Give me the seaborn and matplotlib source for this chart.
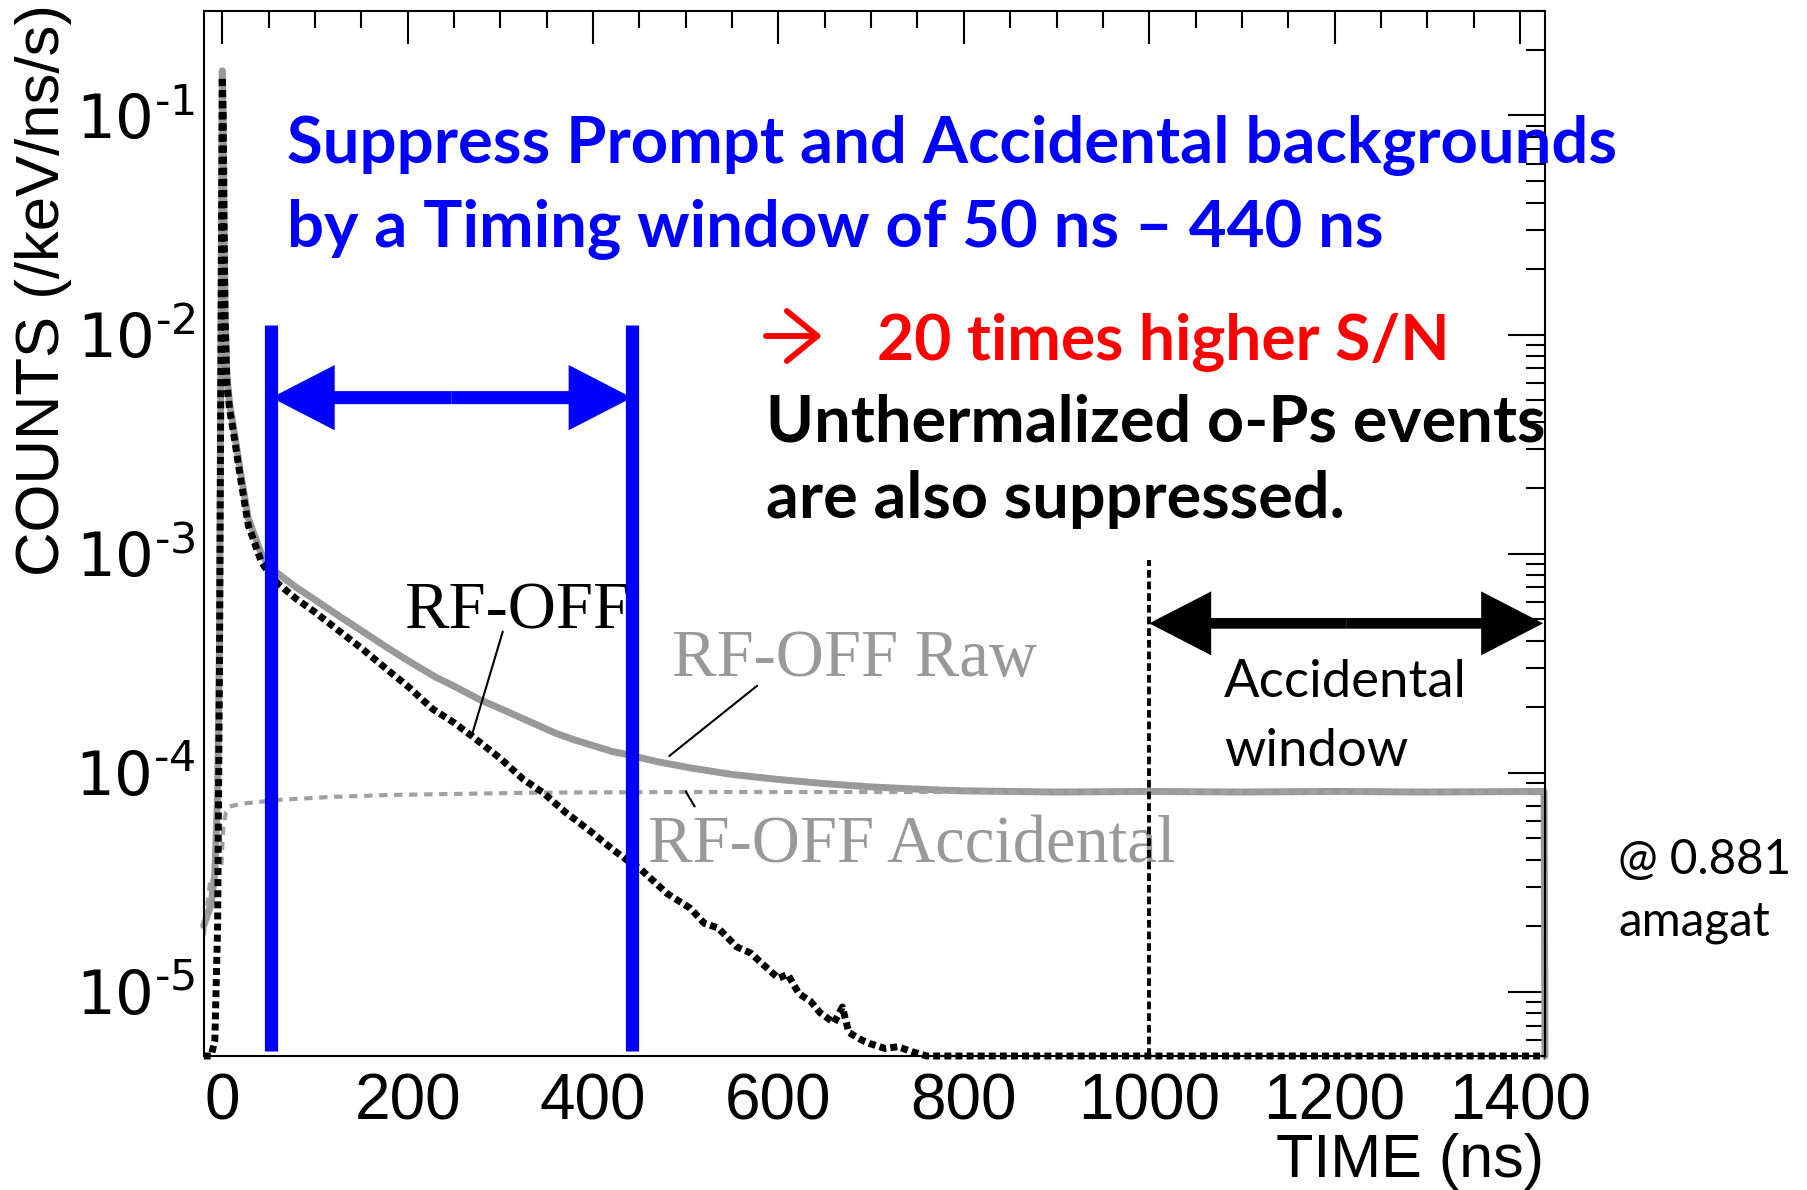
import numpy as np
import pandas as pd
import seaborn as sns
import matplotlib.pyplot as plt
from matplotlib.ticker import MultipleLocator, NullFormatter

# --- data (time in ns, counts in /keV/ns/s) ---
t_rf_off = [-20, -12, -8, -5, -3, -1, 0, 1, 2, 3, 5, 8, 12, 19, 28, 42, 53, 60, 80, 100,
            127, 150, 181, 200, 227, 250, 270, 300, 325, 346, 370, 397, 420, 436, 452, 480,
            505, 520, 535, 555, 570, 586, 600, 610, 622, 635, 645, 660, 669, 676, 690, 698,
            715, 729, 745, 760, 1427]
rf_off = [0, 0, 6e-6, 2e-5, 3e-4, 2e-2, 0.15, 0.1, 0.03, 0.012, 6e-3, 4.5e-3, 3.6e-3, 2.3e-3,
          1.35e-3, 9.2e-4, 7.8e-4, 7.3e-4, 6.2e-4, 5.4e-4, 4.4e-4, 3.7e-4, 2.88e-4, 2.48e-4,
          1.95e-4, 1.69e-4, 1.46e-4, 1.16e-4, 9.3e-5, 8.1e-5, 6.6e-5, 5.4e-5, 4.5e-5, 4.0e-5,
          3.6e-5, 2.8e-5, 2.4e-5, 2.05e-5, 1.95e-5, 1.6e-5, 1.5e-5, 1.3e-5, 1.15e-5, 1.2e-5,
          9.8e-6, 9.0e-6, 8.0e-6, 7.2e-6, 8.5e-6, 6.5e-6, 6.0e-6, 5.8e-6, 5.5e-6, 5.6e-6,
          5.3e-6, 0, 0]

t_raw = [-20, -12, -8, -5, -3, -1, 0, 1, 2, 3, 5, 8, 12, 19, 28, 42, 53, 60, 80, 100, 127,
         150, 181, 200, 230, 250, 278, 300, 330, 360, 380, 420, 436, 470, 505, 550, 600, 650,
         700, 750, 800, 900, 1000, 1100, 1200, 1300, 1426, 1427]
rf_off_raw = [2e-5, 2.5e-5, 3.5e-5, 8e-5, 4e-4, 2e-2, 0.16, 0.1, 0.032, 0.013, 6.5e-3, 4.8e-3,
              3.8e-3, 2.45e-3, 1.45e-3, 1.0e-3, 8.5e-4, 8.1e-4, 7.0e-4, 6.15e-4, 5.15e-4,
              4.45e-4, 3.65e-4, 3.25e-4, 2.73e-4, 2.48e-4, 2.15e-4, 1.96e-4, 1.72e-4, 1.51e-4,
              1.41e-4, 1.25e-4, 1.21e-4, 1.12e-4, 1.05e-4, 9.8e-5, 9.3e-5, 8.9e-5, 8.6e-5,
              8.4e-5, 8.25e-5, 8.15e-5, 8.2e-5, 8.15e-5, 8.2e-5, 8.15e-5, 8.2e-5, 0]

t_acc = [-20, -13, -5, -1, 1, 4, 8, 20, 60, 120, 181, 260, 343, 500, 700, 1000, 1426]
rf_off_acc = [1.8e-5, 3.2e-5, 3.5e-5, 3.7e-5, 5.6e-5, 6.6e-5, 7.0e-5, 7.2e-5, 7.5e-5, 7.75e-5,
              7.9e-5, 8.0e-5, 8.1e-5, 8.15e-5, 8.15e-5, 8.15e-5, 8.15e-5]

timing_window = [53, 442]
accidental_window = [1000, 1425]
x_ticks = [0, 200, 400, 600, 800, 1000, 1200, 1400]
y_exponents = [-5, -4, -3, -2, -1]

W, H = 1807, 1190
BLUE, RED, GREY = '#0000ff', '#ff0000', '#999999'

sns.set_style("white")
plt.rcParams['font.family'] = ['Liberation Sans', 'DejaVu Sans']
plt.rcParams.update({'axes.edgecolor': 'black', 'axes.linewidth': 1.5,
                     'text.color': 'black', 'xtick.color': 'black', 'ytick.color': 'black',
                     'axes.labelcolor': 'black'})

fig = plt.figure(figsize=(W / 100, H / 100), dpi=100)
ax = fig.add_axes([204 / W, 1 - 1056 / H, (1545 - 204) / W, (1056 - 11) / H])
floor = 5.08e-6
ax.set_yscale('log')
ax.set_xlim(-19.7, 1427)
ax.set_ylim(floor, 0.30)

df_off = pd.DataFrame({'time': t_rf_off, 'counts': np.clip(rf_off, floor, None)})
df_raw = pd.DataFrame({'time': t_raw, 'counts': np.clip(rf_off_raw, floor, None)})
df_acc = pd.DataFrame({'time': t_acc, 'counts': rf_off_acc})

sns.lineplot(data=df_raw, x='time', y='counts', ax=ax, color=GREY, lw=5,
             errorbar=None, clip_on=False, zorder=2)
sns.lineplot(data=df_acc, x='time', y='counts', ax=ax, color='#a0a0a0', lw=3,
             linestyle=(0, (2, 1.6)), errorbar=None, zorder=2)
sns.lineplot(data=df_off, x='time', y='counts', ax=ax, color='black', lw=5,
             linestyle=(0, (1, 0.6)), errorbar=None, clip_on=False, zorder=3)
ax.set_xlabel('')
ax.set_ylabel('')

# ticks, ROOT style
ax.set_xticks(x_ticks)
ax.xaxis.set_minor_locator(MultipleLocator(50))
ax.set_yticks([10.0 ** e for e in y_exponents])
ax.set_yticklabels([r'$10^{\text{-}%d}$' % -e for e in y_exponents])
ax.yaxis.set_minor_formatter(NullFormatter())
ax.tick_params(which='both', direction='in', top=True, right=True, width=1.5, color='black')
ax.tick_params(axis='x', which='major', length=24, labelsize=46, pad=12)
ax.tick_params(axis='x', which='minor', length=12)
ax.tick_params(axis='y', which='major', length=27, labelsize=44, pad=6)
ax.tick_params(axis='y', which='minor', length=14)

# timing window (blue) and accidental window (black)
ax.vlines(timing_window, 5.36e-6, 1.1e-2, colors=BLUE, lw=9.5, zorder=6)
ax.vlines(accidental_window[0], floor, 9.3e-4, colors='black', lw=2.8,
          linestyles=(0, (2, 1)), zorder=5)


def double_arrow(x0, x1, y, color, scale, tail):
    mid = (x0 + x1) / 2
    for end in (x0, x1):
        ax.annotate('', xy=(end, y), xytext=(mid, y),
                    arrowprops=dict(arrowstyle=f'simple,head_length=0.97,head_width=1.0,tail_width={tail}',
                                    mutation_scale=scale, color=color, lw=0,
                                    shrinkA=0, shrinkB=0), zorder=7)


double_arrow(timing_window[0], timing_window[1], 5.15e-3, BLUE, 47, 0.2)
double_arrow(accidental_window[0], accidental_window[1], 4.8e-4, 'black', 46, 0.167)

# curve labels with leader lines
ax.text(196.5, 4.57e-4, 'RF-OFF', family='Liberation Serif', fontsize=48, color='black', zorder=3)
ax.text(485.5, 2.77e-4, 'RF-OFF Raw', family='Liberation Serif', fontsize=48, color=GREY, zorder=3)
ax.text(458.9, 3.87e-5, 'RF-OFF Accidental', family='Liberation Serif', fontsize=48, color=GREY, zorder=3)
leaders = [((302.6, 4.4e-4), (268.8, 1.46e-4)),
           ((577, 2.49e-4), (482.2, 1.19e-4)),
           ((500, 8.2e-5), (509.6, 7.0e-5))]
for start, tip in leaders:
    ax.annotate('', xy=tip, xytext=start,
                arrowprops=dict(arrowstyle='-', color='black', lw=1.5, shrinkA=0, shrinkB=0))


def fit(texts, target, vertical=False):
    r = fig.canvas.get_renderer()
    bb = texts[0].get_window_extent(r)
    size = bb.height if vertical else bb.width
    for t in texts:
        t.set_fontsize(t.get_fontsize() * target / size)


# axis titles
ylab = fig.text(44 / W, 1 - 4 / H, 'COUNTS (/keV/ns/s)', rotation=90, ha='center', va='top',
                fontsize=53, family=['Liberation Sans Narrow', 'Liberation Sans'])
fit([ylab], 572, vertical=True)
fig.text(1544 / W, 1 - 1177 / H, 'TIME (ns)', ha='right', va='baseline', fontsize=44)


def ftext(x, y, s, **kw):
    return fig.text(x / W, 1 - y / H, s, ha='left', va='baseline',
                    family=['Lato', 'DejaVu Sans'], **kw)


blue_txt = [ftext(287, 163, 'Suppress Prompt and Accidental backgrounds', color=BLUE,
                  fontsize=44, weight='bold'),
            ftext(287, 246.7, 'by a Timing window of 50 ns \u2013 440 ns', color=BLUE,
                  fontsize=44, weight='bold')]
fit(blue_txt, 1330)
red_txt = [ftext(877, 359.3, '20 times higher S/N', color=RED, fontsize=44, weight='bold')]
fit(red_txt, 572)
black_txt = [ftext(765.5, 441.7, 'Unthermalized o-Ps events', color='black', fontsize=44, weight='bold'),
             ftext(765.5, 518.3, 'are also suppressed.', color='black', fontsize=44, weight='bold')]
fit(black_txt, 778)
acc_txt = [ftext(1224, 696.8, 'Accidental', fontsize=36), ftext(1224, 766, 'window', fontsize=36)]
fit(acc_txt, 243)
amg_txt = [ftext(1618.5, 873.6, '@ 0.881', fontsize=34), ftext(1618.5, 936, 'amagat', fontsize=34)]
fit(amg_txt, 173.5)

# red arrow
ax.annotate('', xy=(822, H - 336), xytext=(766, H - 336), xycoords='figure pixels',
            textcoords='figure pixels',
            arrowprops=dict(arrowstyle='->,head_length=0.55,head_width=0.45', color=RED,
                            lw=4.2, mutation_scale=40, shrinkA=0, shrinkB=0))

fig.savefig('out.png', dpi=100)
